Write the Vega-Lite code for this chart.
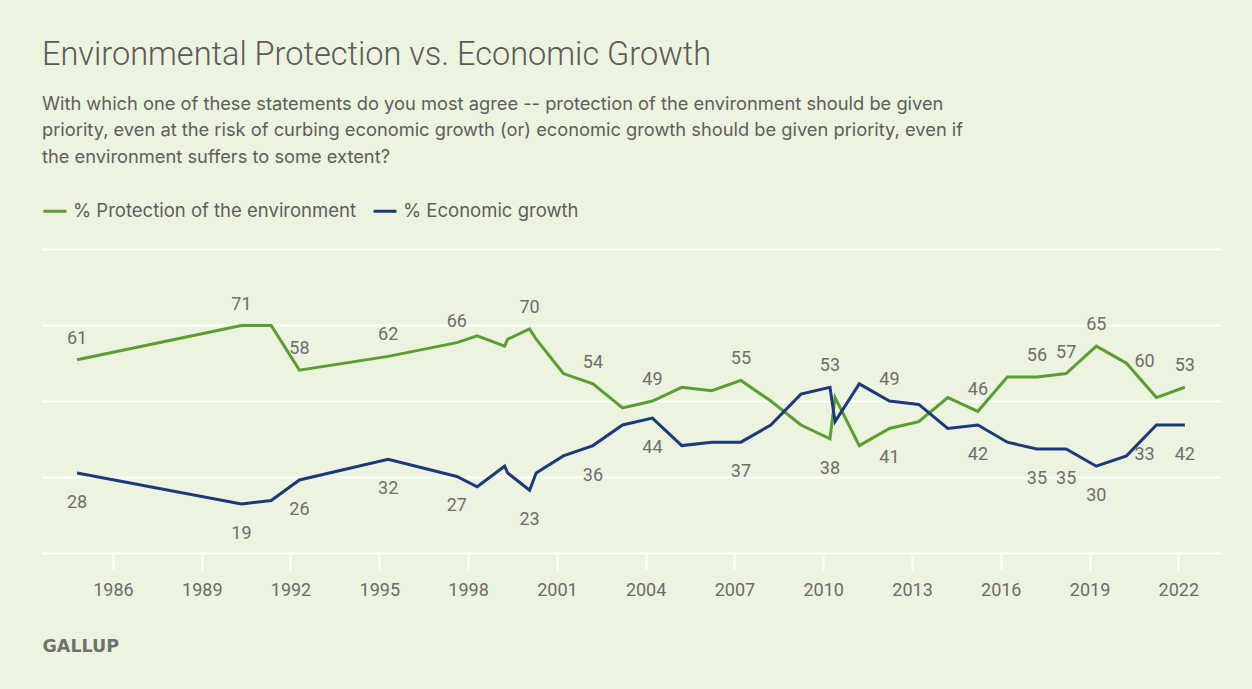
{
  "$schema": "https://vega.github.io/schema/vega-lite/v6.json",
  "width": 1178,
  "height": 304,
  "autosize": {"type": "none"},
  "padding": {"left": 42, "top": 249, "right": 32, "bottom": 136},
  "background": "#ecf3de",
  "config": {
    "view": {"stroke": null},
    "font": "Roboto"
  },
  "title": {
    "text": "Environmental Protection vs. Economic Growth",
    "subtitle": [
      "With which one of these statements do you most agree -- protection of the environment should be given",
      "priority, even at the risk of curbing economic growth (or) economic growth should be given priority, even if",
      "the environment suffers to some extent?"
    ],
    "anchor": "start",
    "frame": "group",
    "font": "Roboto",
    "fontSize": 32.5,
    "fontWeight": 300,
    "color": "#5a5a5a",
    "subtitleFont": "Inter",
    "subtitleFontSize": 18.3,
    "subtitleColor": "#5e5e5e",
    "subtitleLineHeight": 26.5,
    "subtitlePadding": 24,
    "offset": 32
  },
  "data": {
    "values": [
      {"date": "1984-10-15", "series": "% Protection of the environment", "value": 61, "label": true},
      {"date": "1984-10-15", "series": "% Economic growth", "value": 28, "label": true},
      {"date": "1990-05-05", "series": "% Protection of the environment", "value": 71, "label": true},
      {"date": "1990-05-05", "series": "% Economic growth", "value": 19, "label": true},
      {"date": "1991-05-08", "series": "% Protection of the environment", "value": 71, "label": false},
      {"date": "1991-05-08", "series": "% Economic growth", "value": 20, "label": false},
      {"date": "1992-04-20", "series": "% Protection of the environment", "value": 58, "label": true},
      {"date": "1992-04-20", "series": "% Economic growth", "value": 26, "label": true},
      {"date": "1995-04-20", "series": "% Protection of the environment", "value": 62, "label": true},
      {"date": "1995-04-20", "series": "% Economic growth", "value": 32, "label": true},
      {"date": "1997-08-15", "series": "% Protection of the environment", "value": 66, "label": true},
      {"date": "1997-08-15", "series": "% Economic growth", "value": 27, "label": true},
      {"date": "1998-04-23", "series": "% Protection of the environment", "value": 68, "label": false},
      {"date": "1998-04-23", "series": "% Economic growth", "value": 24, "label": false},
      {"date": "1999-03-28", "series": "% Protection of the environment", "value": 65, "label": false},
      {"date": "1999-03-28", "series": "% Economic growth", "value": 30, "label": false},
      {"date": "1999-05-05", "series": "% Protection of the environment", "value": 67, "label": false},
      {"date": "1999-05-05", "series": "% Economic growth", "value": 28, "label": false},
      {"date": "2000-01-30", "series": "% Protection of the environment", "value": 70, "label": true},
      {"date": "2000-01-30", "series": "% Economic growth", "value": 23, "label": true},
      {"date": "2000-04-20", "series": "% Protection of the environment", "value": 67, "label": false},
      {"date": "2000-04-20", "series": "% Economic growth", "value": 28, "label": false},
      {"date": "2001-03-22", "series": "% Protection of the environment", "value": 57, "label": false},
      {"date": "2001-03-22", "series": "% Economic growth", "value": 33, "label": false},
      {"date": "2002-03-22", "series": "% Protection of the environment", "value": 54, "label": true},
      {"date": "2002-03-22", "series": "% Economic growth", "value": 36, "label": true},
      {"date": "2003-03-22", "series": "% Protection of the environment", "value": 47, "label": false},
      {"date": "2003-03-22", "series": "% Economic growth", "value": 42, "label": false},
      {"date": "2004-03-25", "series": "% Protection of the environment", "value": 49, "label": true},
      {"date": "2004-03-25", "series": "% Economic growth", "value": 44, "label": true},
      {"date": "2005-03-22", "series": "% Protection of the environment", "value": 53, "label": false},
      {"date": "2005-03-22", "series": "% Economic growth", "value": 36, "label": false},
      {"date": "2006-03-28", "series": "% Protection of the environment", "value": 52, "label": false},
      {"date": "2006-03-28", "series": "% Economic growth", "value": 37, "label": false},
      {"date": "2007-03-22", "series": "% Protection of the environment", "value": 55, "label": true},
      {"date": "2007-03-22", "series": "% Economic growth", "value": 37, "label": true},
      {"date": "2008-03-25", "series": "% Protection of the environment", "value": 49, "label": false},
      {"date": "2008-03-25", "series": "% Economic growth", "value": 42, "label": false},
      {"date": "2009-04-01", "series": "% Protection of the environment", "value": 42, "label": false},
      {"date": "2009-04-01", "series": "% Economic growth", "value": 51, "label": false},
      {"date": "2010-03-25", "series": "% Protection of the environment", "value": 38, "label": true},
      {"date": "2010-03-25", "series": "% Economic growth", "value": 53, "label": true},
      {"date": "2010-05-27", "series": "% Protection of the environment", "value": 50, "label": false},
      {"date": "2010-05-27", "series": "% Economic growth", "value": 43, "label": false},
      {"date": "2011-03-22", "series": "% Protection of the environment", "value": 36, "label": false},
      {"date": "2011-03-22", "series": "% Economic growth", "value": 54, "label": false},
      {"date": "2012-03-28", "series": "% Protection of the environment", "value": 41, "label": true},
      {"date": "2012-03-28", "series": "% Economic growth", "value": 49, "label": true},
      {"date": "2013-03-25", "series": "% Protection of the environment", "value": 43, "label": false},
      {"date": "2013-03-25", "series": "% Economic growth", "value": 48, "label": false},
      {"date": "2014-03-18", "series": "% Protection of the environment", "value": 50, "label": false},
      {"date": "2014-03-18", "series": "% Economic growth", "value": 41, "label": false},
      {"date": "2015-03-25", "series": "% Protection of the environment", "value": 46, "label": true},
      {"date": "2015-03-25", "series": "% Economic growth", "value": 42, "label": true},
      {"date": "2016-03-22", "series": "% Protection of the environment", "value": 56, "label": false},
      {"date": "2016-03-22", "series": "% Economic growth", "value": 37, "label": false},
      {"date": "2017-03-22", "series": "% Protection of the environment", "value": 56, "label": true},
      {"date": "2017-03-22", "series": "% Economic growth", "value": 35, "label": true},
      {"date": "2018-03-18", "series": "% Protection of the environment", "value": 57, "label": true},
      {"date": "2018-03-18", "series": "% Economic growth", "value": 35, "label": true},
      {"date": "2019-03-25", "series": "% Protection of the environment", "value": 65, "label": true},
      {"date": "2019-03-25", "series": "% Economic growth", "value": 30, "label": true},
      {"date": "2020-04-01", "series": "% Protection of the environment", "value": 60, "label": true},
      {"date": "2020-04-01", "series": "% Economic growth", "value": 33, "label": true},
      {"date": "2021-04-05", "series": "% Protection of the environment", "value": 50, "label": false},
      {"date": "2021-04-05", "series": "% Economic growth", "value": 42, "label": false},
      {"date": "2022-03-22", "series": "% Protection of the environment", "value": 53, "label": true},
      {"date": "2022-03-22", "series": "% Economic growth", "value": 42, "label": true}
    ]
  },
  "encoding": {
    "x": {
      "field": "date",
      "type": "temporal",
      "scale": {
        "type": "utc",
        "domain": [
          {"year": 1983, "month": 8, "date": 9, "utc": true},
          {"year": 2023, "month": 5, "date": 30, "utc": true}
        ]
      },
      "axis": {
        "values": [
          {"year": 1986, "utc": true}, {"year": 1989, "utc": true}, {"year": 1992, "utc": true},
          {"year": 1995, "utc": true}, {"year": 1998, "utc": true}, {"year": 2001, "utc": true},
          {"year": 2004, "utc": true}, {"year": 2007, "utc": true}, {"year": 2010, "utc": true},
          {"year": 2013, "utc": true}, {"year": 2016, "utc": true}, {"year": 2019, "utc": true},
          {"year": 2022, "utc": true}
        ],
        "format": "%Y",
        "domain": false,
        "grid": false,
        "ticks": true,
        "tickColor": "#ffffff",
        "tickWidth": 2,
        "tickSize": 17,
        "labelFont": "Roboto",
        "labelFontSize": 18,
        "labelColor": "#6b6b6b",
        "labelPadding": 11,
        "title": "GALLUP",
        "titleFont": "DejaVu Sans",
        "titleFontSize": 17.5,
        "titleFontWeight": "bold",
        "titleColor": "#707070",
        "titleAnchor": "start",
        "titleAlign": "left",
        "titleBaseline": "middle",
        "titleX": 0,
        "titleY": 93
      }
    },
    "y": {
      "field": "value",
      "type": "quantitative",
      "scale": {"domain": [4.7, 93.3], "nice": false, "zero": false},
      "axis": {
        "values": [4.7, 26.85, 49, 71.15, 93.3],
        "grid": true,
        "gridColor": "#ffffff",
        "gridWidth": 2,
        "gridOpacity": 1,
        "domain": false,
        "ticks": false,
        "labels": false,
        "title": null
      }
    }
  },
  "layer": [
    {
      "mark": {"type": "line", "strokeWidth": 3},
      "encoding": {
        "color": {
          "field": "series",
          "type": "nominal",
          "scale": {
            "domain": ["% Protection of the environment", "% Economic growth"],
            "range": ["#5a9e32", "#1b3a7c"]
          },
          "legend": {
            "title": null,
            "orient": "none",
            "legendX": 0,
            "legendY": -51,
            "direction": "horizontal",
            "symbolType": "stroke",
            "symbolSize": 529,
            "symbolStrokeWidth": 3,
            "labelFont": "Inter",
            "labelFontSize": 18.5,
            "labelColor": "#5e5e5e",
            "labelLimit": 0,
            "labelOffset": 5,
            "columnPadding": 10,
            "padding": 0
          }
        }
      }
    },
    {
      "transform": [
        {"filter": "datum.label && utcyear(datum.date) != 2020"},
        {"joinaggregate": [{"op": "max", "field": "value", "as": "maxv"}], "groupby": ["date"]},
        {"filter": "datum.value == datum.maxv"}
      ],
      "mark": {"type": "text", "font": "Roboto", "fontSize": 18, "color": "#6e6e6e", "baseline": "middle", "dy": -21},
      "encoding": {"text": {"field": "value", "type": "quantitative"}}
    },
    {
      "transform": [
        {"filter": "datum.label && utcyear(datum.date) != 2020"},
        {"joinaggregate": [{"op": "max", "field": "value", "as": "maxv"}], "groupby": ["date"]},
        {"filter": "datum.value < datum.maxv"}
      ],
      "mark": {"type": "text", "font": "Roboto", "fontSize": 18, "color": "#6e6e6e", "baseline": "middle", "dy": 30},
      "encoding": {"text": {"field": "value", "type": "quantitative"}}
    },
    {
      "transform": [
        {"filter": "datum.label && utcyear(datum.date) == 2020"}
      ],
      "mark": {"type": "text", "font": "Roboto", "fontSize": 18, "color": "#6e6e6e", "baseline": "middle", "align": "left", "dx": 8, "dy": -1},
      "encoding": {"text": {"field": "value", "type": "quantitative"}}
    }
  ]
}
